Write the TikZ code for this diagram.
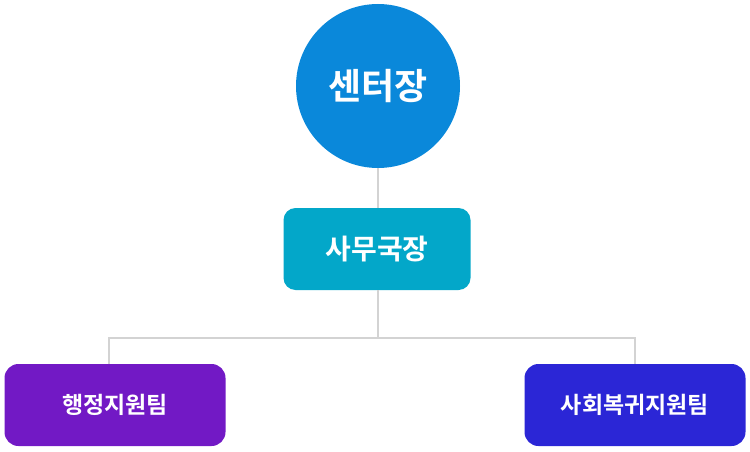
\documentclass[tikz,border=0pt]{standalone}
\usepackage{fontspec}
\newfontfamily\korfont{Noto Sans CJK KR}[BoldFont={Noto Sans CJK KR Bold}]
\definecolor{headblue}{HTML}{0A88DA}
\definecolor{officecyan}{HTML}{03A7C9}
\definecolor{teampurple}{HTML}{7219C5}
\definecolor{teamblue}{HTML}{2B26D6}
\definecolor{linkgray}{HTML}{D3D3D3}
\begin{document}
\begin{tikzpicture}[
    x=1pt, y=-1pt,
    head/.style={circle, fill=headblue, minimum size=164pt, inner sep=0pt, text=white, font=\korfont\bfseries\fontsize{36}{36}\selectfont},
    office/.style={rectangle, fill=officecyan, minimum width=187pt, minimum height=82pt, rounded corners=12pt, text=white, font=\korfont\bfseries\fontsize{28}{28}\selectfont},
    team/.style={rectangle, minimum width=221pt, minimum height=82pt, rounded corners=14pt, text=white, font=\korfont\bfseries\fontsize{23}{23}\selectfont},
    link/.style={draw=linkgray, line width=1.2pt}
]
\useasboundingbox (0,0) rectangle (750,452);

% Center head
\node[head] (chief) at (378, 86) {센터장};

% Secretary general
\node[office] (secretary) at (377, 249) {사무국장};

% Teams
\node[team, fill=teampurple] (admin) at (115, 405) {행정지원팀};
\node[team, fill=teamblue] (social) at (635, 405) {사회복귀지원팀};

% Links
\coordinate (split) at (378, 338);
\draw[link] (chief.south) -- (chief.south |- secretary.north);
\draw[link] (secretary.south -| split) -- (split);
\draw[link] (admin.north -| 109,0) |- (split) -| (social.north -| 635,0);

\end{tikzpicture}
\end{document}
